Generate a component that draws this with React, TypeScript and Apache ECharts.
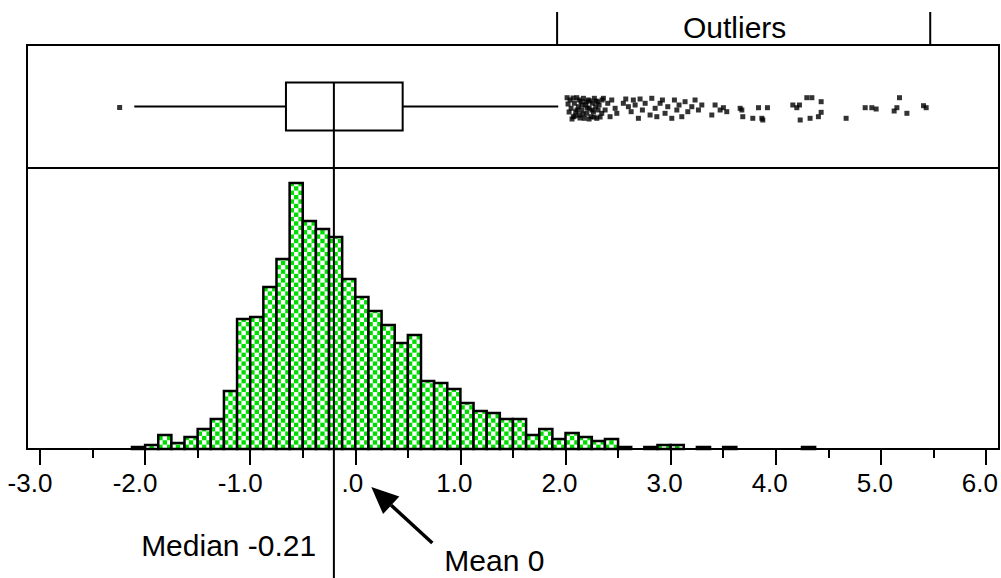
import React, { useEffect, useRef } from 'react';
import * as echarts from 'echarts';

// ---- data ----
const AXIS_MIN = -3;
const AXIS_MAX = 6;
const AXIS_INTERVAL = 1;

const BIN_START = -2.125;
const BIN_WIDTH = 0.125;
const BIN_COUNTS = [
  1, 2, 7, 3, 6, 10, 15, 29, 65, 66, 81, 95, 133, 114, 110, 106, 85, 76, 69, 62,
  53, 57, 34, 33, 30, 23, 19, 18, 15, 15, 7, 10, 5, 8, 6, 4, 5, 1, 0, 1,
  2, 2, 0, 1, 0, 1, 0, 0, 0, 0, 0, 1,
];

// whisker low, Q1, median, Q3, whisker high
const BOX_STATS = [-2.105, -0.665, -0.21, 0.443, 1.92];
const MEDIAN = -0.21;
const MEAN = 0;
const OUTLIER_BRACKET = [1.92, 5.47];

const LOW_OUTLIER_VALUES = [-2.244];
const LOW_OUTLIER_JITTER = [62.5];

const OUTLIER_VALUES = [
  2.032, 2.042, 2.064, 2.073, 2.086, 2.096, 2.111, 2.118, 2.137, 2.143, 2.159, 2.168,
  2.181, 2.191, 2.206, 2.213, 2.232, 2.244, 2.254, 2.263, 2.276, 2.286, 2.295, 2.333,
  2.349, 2.365, 2.39, 2.412, 2.428, 2.46, 2.476, 2.538, 2.561, 2.586, 2.612, 2.633,
  2.65, 2.681, 2.697, 2.719, 2.745, 2.792, 2.808, 2.84, 2.856, 2.887, 2.909, 2.934,
  2.96, 2.998, 3.023, 3.046, 3.067, 3.093, 3.124, 3.15, 3.188, 3.219, 3.251, 3.283,
  3.378, 3.409, 3.457, 3.488, 3.52, 3.647, 3.663, 3.672, 3.767, 3.821, 3.853, 3.862,
  3.906, 4.147, 4.185, 4.21, 4.217, 4.28, 4.311, 4.328, 4.39, 4.416, 4.416, 4.653,
  4.834, 4.897, 4.938, 5.109, 5.135, 5.16, 5.23, 5.388, 5.413,
  2.004, 2.013, 2.023, 2.051, 2.061, 2.08, 2.099, 2.118, 2.127, 2.146, 2.156, 2.184,
  2.194, 2.213, 2.222, 2.241, 2.26, 2.279, 2.298, 2.308, 2.317, 2.336,
];
const OUTLIER_JITTER = [
  55, 63.3, 71.7, 58.3, 66.7, 52.7, 61.7, 70, 56.7, 65, 53.3, 73.3,
  60, 68.3, 55, 63.3, 71.7, 58.3, 66.7, 53.3, 61.7, 73.3, 56.7, 68.3,
  53.3, 65, 58.3, 71.7, 55, 63.3, 68.3, 58.3, 54, 61.7, 66.7, 55,
  60, 73.3, 54, 65, 58.3, 70, 53.3, 63.3, 71.7, 58.3, 55, 68.3,
  61.7, 73.3, 55, 65, 60, 71.7, 56.7, 66.7, 61.7, 55, 65, 60,
  70, 60, 65, 62.7, 66.7, 63.3, 65, 71.7, 73.3, 62.7, 73.3, 75,
  62.7, 60, 62.7, 60, 75, 52.7, 73.3, 52.7, 71.7, 67.3, 56.7, 73.3,
  62.7, 62.7, 64, 66, 62.7, 52.7, 68.3, 60.7, 62.7, 52.7,
  59, 67, 74, 53, 71, 65, 55, 73, 60, 69, 57, 63,
  74, 56, 65, 72, 56, 65, 60, 72, 55, 68,
];

const FONT = '"Liberation Sans", Arial, Helvetica, sans-serif';
const GREEN = '#00dd00';
const CELLS_PER_BAR = 3;

export default function App() {
  const ref = useRef<HTMLDivElement>(null);

  useEffect(() => {
    document.body.style.margin = '0';
    if (!ref.current) return;
    const chart = echarts.init(ref.current, undefined, { renderer: 'svg' });

    const binData = BIN_COUNTS.map((c, i) => [
      BIN_START + i * BIN_WIDTH,
      BIN_START + (i + 1) * BIN_WIDTH,
      c,
      i,
    ]);
    const outlierData = LOW_OUTLIER_VALUES.map((v, i) => [v, LOW_OUTLIER_JITTER[i]]).concat(
      OUTLIER_VALUES.map((v, i) => [v, OUTLIER_JITTER[i]])
    );

    const BOX_Y = 61.5;
    const BOX_HALF = 24;
    const labelBase = { fontSize: 26, fontFamily: FONT, color: '#000' };

    chart.setOption({
      animation: false,
      grid: [
        { left: 40, right: 13, top: 45, height: 123 },
        { left: 40, right: 13, top: 168, height: 281 },
      ],
      xAxis: [
        { type: 'value', gridIndex: 0, min: AXIS_MIN, max: AXIS_MAX, show: false },
        {
          type: 'value',
          gridIndex: 1,
          min: AXIS_MIN,
          max: AXIS_MAX,
          interval: AXIS_INTERVAL,
          axisLine: { show: false },
          splitLine: { show: false },
          axisTick: { show: true, length: 16, lineStyle: { color: '#000', width: 2 } },
          minorTick: { show: true, splitNumber: 2, length: 9, lineStyle: { color: '#000', width: 2 } },
          axisLabel: {
            show: true,
            margin: 21,
            showMinLabel: true,
            showMaxLabel: true,
            ...labelBase,
            formatter: (v: number) => {
              if (v === 0) return '{z|.0}';
              return v < 0 ? `{n|${v.toFixed(1)}}` : `{p|${v.toFixed(1)}}`;
            },
            rich: {
              n: { ...labelBase, padding: [0, 20, 0, 0] },
              p: { ...labelBase, padding: [0, 12, 0, 0] },
              z: { ...labelBase, padding: [0, 6, 0, 0] },
            },
          },
        },
      ],
      yAxis: [
        { type: 'value', gridIndex: 0, min: 0, max: 123, inverse: true, show: false },
        { type: 'value', gridIndex: 1, min: 0, max: 140.5, show: false },
      ],
      series: [
        {
          type: 'custom',
          xAxisIndex: 1,
          yAxisIndex: 1,
          z: 2,
          clip: false,
          data: binData,
          renderItem: (params: any, api: any) => {
            const x0 = api.value(0);
            const x1 = api.value(1);
            const c = api.value(2);
            const idx = api.value(3);
            if (!c) return null;
            const p0 = api.coord([x0, c]);
            const p1 = api.coord([x1, 0]);
            const left = p0[0];
            const right = p1[0];
            const top = p0[1];
            const bottom = p1[1];
            const cw = (right - left) / CELLS_PER_BAR;
            const children: any[] = [
              {
                type: 'rect',
                shape: { x: left, y: top, width: right - left, height: bottom - top },
                style: { fill: '#fff' },
              },
            ];
            const rows = Math.ceil((bottom - top) / cw);
            for (let r = 0; r < rows; r++) {
              const yB = bottom - r * cw;
              const yT = Math.max(top, yB - cw);
              for (let k = 0; k < CELLS_PER_BAR; k++) {
                const col = idx * CELLS_PER_BAR + k;
                if ((col + r) % 2 !== 0) continue;
                children.push({
                  type: 'rect',
                  shape: { x: left + k * cw, y: yT, width: cw, height: yB - yT },
                  style: { fill: GREEN },
                });
              }
            }
            children.push({
              type: 'rect',
              shape: { x: left, y: top, width: right - left, height: bottom - top },
              style: { fill: 'none', stroke: '#000', lineWidth: 2.5 },
            });
            return { type: 'group', children };
          },
        },
        {
          type: 'custom',
          xAxisIndex: 0,
          yAxisIndex: 0,
          z: 5,
          clip: false,
          data: [BOX_STATS],
          renderItem: (params: any, api: any) => {
            const lo = api.value(0);
            const q1 = api.value(1);
            const med = api.value(2);
            const q3 = api.value(3);
            const hi = api.value(4);
            const X = (v: number) => api.coord([v, BOX_Y])[0];
            const yc = api.coord([0, BOX_Y])[1];
            const yt = api.coord([0, BOX_Y - BOX_HALF])[1];
            const yb = api.coord([0, BOX_Y + BOX_HALF])[1];
            const ls = { stroke: '#000', lineWidth: 2, fill: 'none' };
            return {
              type: 'group',
              children: [
                { type: 'line', shape: { x1: X(lo), y1: yc, x2: X(q1), y2: yc }, style: ls },
                { type: 'line', shape: { x1: X(q3), y1: yc, x2: X(hi), y2: yc }, style: ls },
                {
                  type: 'rect',
                  shape: { x: X(q1), y: yt, width: X(q3) - X(q1), height: yb - yt },
                  style: ls,
                },
                {
                  type: 'line',
                  shape: { x1: X(med), y1: yt, x2: X(med), y2: api.getHeight() },
                  style: ls,
                },
              ],
            };
          },
        },
        {
          type: 'scatter',
          xAxisIndex: 0,
          yAxisIndex: 0,
          z: 6,
          symbol: 'rect',
          symbolSize: 5,
          itemStyle: { color: '#000' },
          data: outlierData,
        },
      ],
    });

    const px = (v: number) => chart.convertToPixel({ xAxisIndex: 1 }, v) as unknown as number;
    const mx = px(MEDIAN);
    const b0 = px(OUTLIER_BRACKET[0]);
    const b1 = px(OUTLIER_BRACKET[1]);
    const meanX = px(MEAN);

    const tip = [meanX + 16, 487];
    const tail = [meanX + 77, 543];
    const dx = tail[0] - tip[0];
    const dy = tail[1] - tip[1];
    const len = Math.sqrt(dx * dx + dy * dy);
    const ux = dx / len;
    const uy = dy / len;
    const headLen = 27;
    const headHalf = 12;
    const bc = [tip[0] + ux * headLen, tip[1] + uy * headLen];

    chart.setOption({
      graphic: [
        {
          type: 'rect',
          z: 10,
          shape: { x: 27, y: 45, width: 972, height: 404 },
          style: { fill: 'none', stroke: '#000', lineWidth: 2 },
        },
        {
          type: 'line',
          z: 10,
          shape: { x1: 27, y1: 168, x2: 999, y2: 168 },
          style: { stroke: '#000', lineWidth: 2 },
        },
        {
          type: 'line',
          z: 10,
          shape: { x1: b0, y1: 12, x2: b0, y2: 45 },
          style: { stroke: '#000', lineWidth: 2 },
        },
        {
          type: 'line',
          z: 10,
          shape: { x1: b1, y1: 12, x2: b1, y2: 45 },
          style: { stroke: '#000', lineWidth: 2 },
        },
        {
          type: 'text',
          z: 10,
          x: (b0 + b1) / 2 - 9,
          y: 27,
          style: {
            text: 'Outliers',
            fontSize: 30,
            fontFamily: FONT,
            fill: '#000',
            align: 'center',
            verticalAlign: 'middle',
          },
        },
        {
          type: 'text',
          z: 10,
          x: mx - 17,
          y: 545,
          style: {
            text: 'Median -0.21',
            fontSize: 30,
            fontFamily: FONT,
            fill: '#000',
            align: 'right',
            verticalAlign: 'middle',
          },
        },
        {
          type: 'text',
          z: 10,
          x: meanX + 89,
          y: 560,
          style: {
            text: 'Mean 0',
            fontSize: 30,
            fontFamily: FONT,
            fill: '#000',
            align: 'left',
            verticalAlign: 'middle',
          },
        },
        {
          type: 'line',
          z: 10,
          shape: { x1: tail[0], y1: tail[1], x2: bc[0], y2: bc[1] },
          style: { stroke: '#000', lineWidth: 3.5 },
        },
        {
          type: 'polygon',
          z: 10,
          shape: {
            points: [
              tip,
              [bc[0] - uy * headHalf, bc[1] + ux * headHalf],
              [bc[0] + uy * headHalf, bc[1] - ux * headHalf],
            ],
          },
          style: { fill: '#000' },
        },
      ],
    });

    return () => chart.dispose();
  }, []);

  return (
    <div
      ref={ref}
      style={{ position: 'fixed', left: 0, top: 0, width: 1001, height: 578, background: '#fff' }}
    />
  );
}
